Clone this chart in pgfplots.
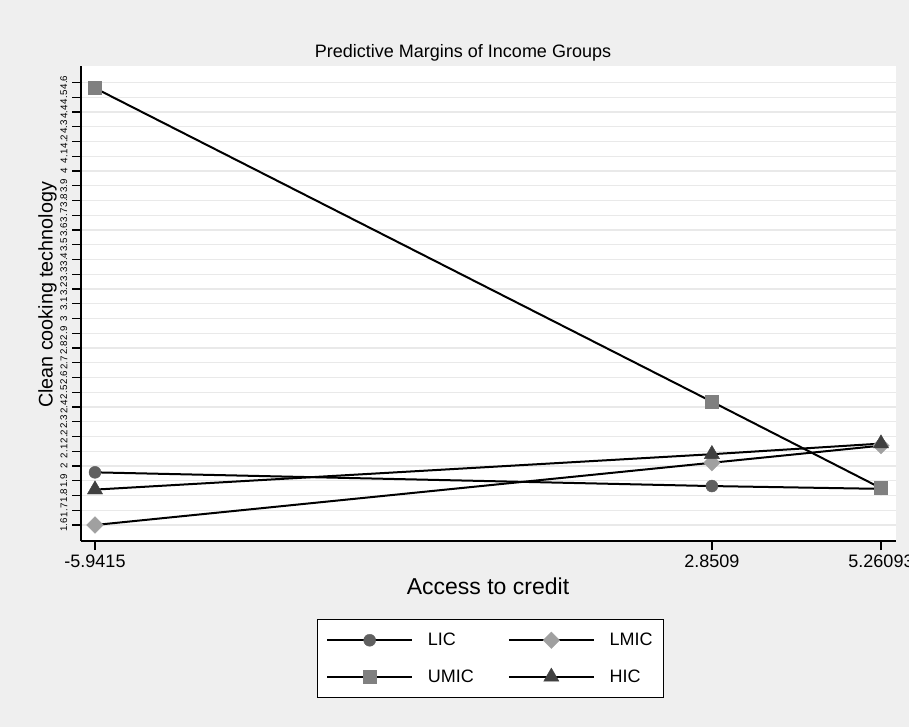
\documentclass[border=0pt]{standalone}
\usepackage{pgfplots}
\pgfplotsset{compat=1.18}
\usepackage{fontspec}
\setmainfont{Liberation Sans}
\definecolor{bgcol}{RGB}{239,239,239}
\definecolor{gridcol}{RGB}{233,233,233}
\definecolor{licc}{RGB}{96,96,96}
\definecolor{lmicc}{RGB}{160,160,160}
\definecolor{umicc}{RGB}{128,128,128}
\definecolor{hicc}{RGB}{64,64,64}
\begin{document}
\begin{tikzpicture}
% graph region; anything beyond it is cut off
\useasboundingbox (0pt,0pt) rectangle (681.75pt,-545.25pt);
\fill[bgcol] (0pt,0pt) rectangle (681.75pt,-545.25pt);
\begin{axis}[
  at={(60.75pt,-405.75pt)}, anchor=south west,
  width=611.25pt, height=356.25pt, scale only axis,
  xmin=-6.141, xmax=5.475, ymin=1.4915, ymax=4.712,
  axis x line*=bottom, axis y line*=left,
  axis line style={black, line width=1pt, -},
  axis background/.style={fill=white},
  /pgf/number format/assume math mode=true,
  tick align=outside, major tick length=6.75pt,
  tick style={black, line width=1pt},
  xtick={-5.9415,2.8509,5.26093},
  xticklabels={-5.9415,2.8509,5.26093},
  xticklabel style={font=\fontsize{13.5}{16}\selectfont},
  ytick={1.6,1.7,1.8,1.9,2.0,2.1,2.2,2.3,2.4,2.5,2.6,2.7,2.8,2.9,3.0,3.1,3.2,3.3,3.4,3.5,3.6,3.7,3.8,3.9,4.0,4.1,4.2,4.3,4.4,4.5,4.6},
  yticklabels={1.6,1.7,1.8,1.9,2,2.1,2.2,2.3,2.4,2.5,2.6,2.7,2.8,2.9,3,3.1,3.2,3.3,3.4,3.5,3.6,3.7,3.8,3.9,4,4.1,4.2,4.3,4.4,4.5,4.6},
  yticklabel style={font=\fontsize{7.3}{8}\selectfont, rotate=90, anchor=south},
  ymajorgrids, major grid style={gridcol, line width=1.1pt},
  legend columns=2,
  legend cell align=left,
  legend image code/.code={\draw[mark repeat=2,mark phase=2,#1] plot coordinates {(0pt,0pt) (31.875pt,0pt) (63.75pt,0pt)};},
  legend style={at={(0.2896,-0.1645)}, anchor=north west,
    draw=black, line width=0.75pt, fill=white,
    font=\fontsize{13.5}{16}\selectfont,
    inner xsep=6.5pt, inner ysep=8pt, row sep=12.5pt,
    /tikz/every odd column/.append style={column sep=9pt},
    /tikz/every even column/.append style={column sep=23.5pt}},
  every axis plot/.append style={black, line width=1.5pt},
]
\addplot[mark=*, mark size=4.5pt, mark options={draw=licc, fill=licc, line width=0.3pt}]
  coordinates {(-5.9415,1.957) (2.8509,1.864) (5.26093,1.845)};
\addlegendentry{LIC}
\addplot[mark=square*, mark size=4.4pt, mark options={draw=lmicc, fill=lmicc, rotate=45, line width=0.3pt}]
  coordinates {(-5.9415,1.600) (2.8509,2.022) (5.26093,2.138)};
\addlegendentry{LMIC}
\addplot[mark=square*, mark size=4.9pt, mark options={draw=umicc, fill=umicc, line width=0.3pt}]
  coordinates {(-5.9415,4.562) (2.8509,2.436) (5.26093,1.850)};
\addlegendentry{UMIC}
\addplot[mark=triangle*, mark size=6.6pt, mark options={draw=hicc, fill=hicc, line width=0.3pt}]
  coordinates {(-5.9415,1.840) (2.8509,2.080) (5.26093,2.152)};
\addlegendentry{HIC}
\end{axis}
\node[anchor=base, font=\fontsize{13.5}{16}\selectfont] at (347.25pt,-43.5pt) {Predictive Margins of Income Groups};
\node[anchor=base, font=\fontsize{17.25}{20}\selectfont] at (366pt,-445.5pt) {Access to credit};
\node[anchor=base, rotate=90, font=\fontsize{14.8}{18}\selectfont] at (39.4pt,-221.25pt) {Clean cooking technology};
\end{tikzpicture}
\end{document}
